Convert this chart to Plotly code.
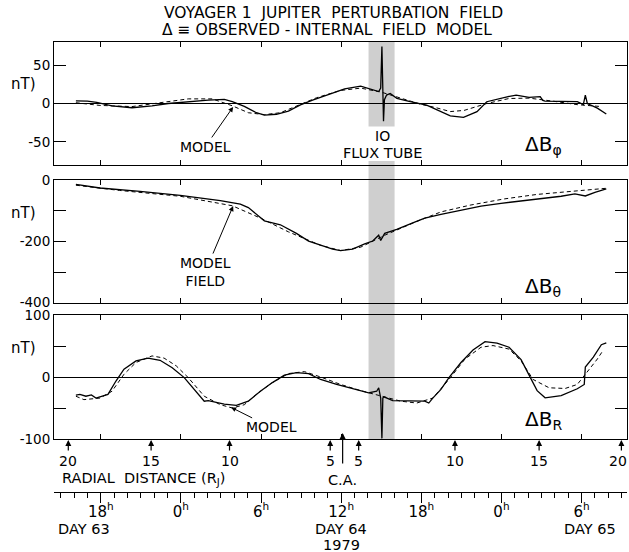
import plotly.graph_objects as go

W, H = 629, 552

# ---------------- data (hours since Day 63, 00h) ----------------
phi_obs_h = [16.14, 17.0, 17.7, 18.84, 20.34, 21.84, 23.05, 24.55, 26.05, 27.25, 27.85, 28.75, 29.65, 30.25,
             31.15, 32.05, 32.95, 33.86, 35.06, 36.26, 37.46, 38.06, 38.36, 38.81, 38.96, 39.05, 39.17, 39.24,
             39.4, 39.67, 40.17, 41.17, 42.4, 43.17, 44.17, 45.16, 46.17, 46.9, 47.67, 48.5, 49.1, 50.07,
             50.9, 51.1, 51.27, 52.47, 53.68, 54.13, 54.28, 54.43, 55.18, 55.85]
phi_obs = [3.5, 3.0, 1.5, -3, -5.5, -3, 0, 2.5, 4.5, 5.4, 2.5, -3.7, -12, -15,
           -14, -10, -1.7, 4.5, 12, 19, 22.5, 19, 17.5, 15.5, 20, 74, -23, 5,
           11, 13, 6.7, 2.3, -2, -8.4, -16, -18, -10.6, 2.3, 6, 9, 11, 8,
           9, 4, 3, 3, 2.5, -1.5, 11, 0, -6, -13.6]
phi_mod_h = [16.14, 17.94, 20.34, 22.44, 24.55, 26.35, 27.85, 29.05, 30.25, 31.45, 32.65, 34.16, 35.96,
             37.46, 38.96, 40.46, 41.96, 43.0, 44.17, 45.2, 46.17, 46.9, 48.57, 50.07, 51.87, 53.68, 55.5]
phi_mod = [1, -2.5, -4, 1, 6, 6, -3, -12, -14.5, -12, -3, 7.5, 17,
           20, 15, 6.6, -1, -5, -10.5, -9, -4, 0, 6.5, 7, 3, -1.5, -4]

th_obs_h = [16.14, 17.94, 20.94, 23.95, 26.95, 28.45, 29.05, 29.65, 30.25, 31.45, 32.65, 33.56, 34.46, 35.36,
            35.96, 36.86, 37.76, 38.36, 38.81, 38.96, 39.26, 40.16, 41.36, 42.26, 43.47, 44.97, 46.47,
            47.97, 49.47, 50.97, 52.47, 53.5, 54.28, 55.0, 55.85]
th_obs = [-14.6, -26, -37, -50, -67, -79, -90, -112, -133, -146, -174, -199, -213, -225,
          -230, -225, -208, -199, -180, -197, -174, -161, -140, -124, -112, -98, -85,
          -76, -68, -62, -53, -45, -52, -40, -29]
th_mod_h = [16.14, 19.4, 23.95, 27.85, 29.95, 32.05, 34.46, 35.96, 37.46, 39.26, 41.66, 43.47, 45.65,
            48.16, 50.66, 53.15, 55.85]
th_mod = [-17, -34, -53, -84, -124, -169, -213, -230, -219, -180, -135, -104, -82,
          -62, -47, -38, -27]

r_obs_h = [16.14, 16.44, 16.89, 17.3, 17.64, 18.54, 19.14, 19.74, 20.64, 21.54, 22.44, 23.35, 24.25, 25.15,
           25.75, 26.05, 27.25, 28.15, 29.05, 29.95, 30.85, 31.75, 32.65, 33.56, 34.46, 35.66, 36.86,
           38.06, 38.66, 38.81, 38.96, 39.05, 39.12, 39.2, 39.86, 40.76, 42.26, 42.56, 42.86, 43.47,
           44.07, 44.97, 45.87, 46.77, 47.67, 48.57, 49.47, 50.07, 50.67, 51.27, 52.47, 53.68, 54.2,
           54.28, 54.88, 55.48, 55.85]
r_obs = [-29.4, -28, -31, -29, -34, -28, -6.5, 12.5, 26, 30.5, 27, 15, -1, -23,
         -39, -38, -43.6, -45.8, -39, -23, -9, 3, 7, 5.5, -4, -12, -18.5,
         -25.6, -23, -17.4, -34, -99, -34, -32, -38, -38, -39, -42, -34, -20,
         -1, 23.4, 43.6, 57, 54.5, 48, 28, 3, -22, -33.5, -30, -19, -12,
         16, 32, 52, 55]
r_mod_h = [16.14, 16.74, 17.94, 18.84, 19.74, 20.64, 21.84, 22.74, 23.65, 24.55, 25.75, 26.95, 27.85,
           28.75, 29.65, 30.85, 32.05, 33.25, 34.46, 35.96, 37.46, 38.96, 40.46, 41.66, 42.86, 44.07,
           45.27, 46.47, 47.37, 48.57, 49.47, 50.37, 51.57, 52.77, 53.68, 54.28, 55.18, 55.63]
r_mod = [-31, -36.5, -34, -23, 4.4, 23.4, 34, 30.5, 18, -1, -31, -44.7, -50,
         -44.7, -28, -9, 5.5, 8.7, 0, -12, -22, -31, -39, -42, -34, -4,
         29, 48, 50.7, 45, 26, -4, -17.4, -18.5, -12, 4.4, 29, 43.6]

io_band = [38.05, 40.0]

radial_labels = ["20", "15", "10", "5", "5", "10", "15", "20"]
radial_hours = [15.57, 21.77, 27.64, 35.18, 37.31, 44.52, 50.82, 56.98]
ca_hour = 36.11

hour_ticks = [18, 24, 30, 36, 42, 48, 54]
hour_text = ["18", "0", "6", "12", "18", "0", "6"]
day_labels = ["DAY 63", "DAY 64", "DAY 65"]
day_hours = [16.75, 36.0, 54.6]
year_label = "1979"

X_RANGE = [14.5, 57.4]
FONT = "DejaVu Sans"

def py(px):
    return 1 - px / H

xdom = [54 / W, 627 / W]
p1 = [py(165), py(42)]
p2 = [py(302.7), py(180)]
p3 = [py(439), py(315)]
ptime = py(491.7)

fig = go.Figure()
solid = dict(color="black", width=1.3)
dashed = dict(color="black", width=1, dash="4px,3px")
fig.add_trace(go.Scatter(x=phi_mod_h, y=phi_mod, mode="lines", line=dashed, xaxis="x", yaxis="y"))
fig.add_trace(go.Scatter(x=phi_obs_h, y=phi_obs, mode="lines", line=solid, xaxis="x", yaxis="y"))
fig.add_trace(go.Scatter(x=th_mod_h, y=th_mod, mode="lines", line=dashed, xaxis="x2", yaxis="y2"))
fig.add_trace(go.Scatter(x=th_obs_h, y=th_obs, mode="lines", line=solid, xaxis="x2", yaxis="y2"))
fig.add_trace(go.Scatter(x=r_mod_h, y=r_mod, mode="lines", line=dashed, xaxis="x3", yaxis="y3"))
fig.add_trace(go.Scatter(x=r_obs_h, y=r_obs, mode="lines", line=solid, xaxis="x3", yaxis="y3"))

tickfont = dict(family=FONT, size=13.5, color="black")

def xax(anchor):
    return dict(domain=xdom, range=X_RANGE, anchor=anchor, showline=True, linecolor="black", linewidth=1,
                mirror="ticks", ticks="inside", ticklen=5, tickcolor="black", tickwidth=1,
                tickvals=hour_ticks, showticklabels=False, showgrid=False, zeroline=False,
                automargin=False)

def yax(anchor, dom, rng, vals, text, zl):
    return dict(domain=dom, range=rng, anchor=anchor, showline=True, linecolor="black", linewidth=1,
                mirror="ticks", ticks="inside", ticklen=12, tickcolor="black", tickwidth=1,
                tickvals=vals, ticktext=text, tickfont=tickfont, showgrid=False,
                zeroline=zl, zerolinecolor="black", zerolinewidth=1, automargin=False)

fig.update_layout(
    width=W, height=H, margin=dict(l=0, r=0, t=0, b=0, pad=0, autoexpand=False),
    paper_bgcolor="white", plot_bgcolor="white", showlegend=False,
    xaxis=xax("y"), yaxis=yax("x", p1, [-80, 80], [-50, 0, 50], ["-50", "0", "50"], True),
    xaxis2=xax("y2"), yaxis2=yax("x2", p2, [-400, 0], [-400, -300, -200, -100, 0],
                                  ["-400", "", "-200", "", "0"], False),
    xaxis3=xax("y3"), yaxis3=yax("x3", p3, [-100, 100], [-100, -50, 0, 50, 100],
                                  ["-100", "", "0", "", "100"], True),
    xaxis4=dict(domain=xdom, range=X_RANGE, anchor="y4", showline=True, linecolor="black", linewidth=1,
                ticks="outside", ticklen=10, tickcolor="black", tickwidth=1,
                tickvals=hour_ticks, ticktext=[t + "<sup>h</sup>" for t in hour_text],
                tickfont=dict(family=FONT, size=15, color="black"), ticklabelstandoff=-4,
                showgrid=False, zeroline=False, automargin=False,
                minor=dict(tickmode="linear", tick0=0, dtick=1, ticklen=5, ticks="outside",
                           tickcolor="black", tickwidth=1)),
    yaxis4=dict(domain=[ptime, ptime + 0.002], anchor="x4", visible=False, range=[0, 1], automargin=False),
)

# IO flux tube band
band_col = "#cfcfcf"
fig.add_shape(type="rect", xref="x", yref="y", x0=io_band[0], x1=io_band[1], y0=-30, y1=80,
              fillcolor=band_col, line_width=0, layer="below")
fig.add_shape(type="rect", xref="x3", yref="paper", x0=io_band[0], x1=io_band[1], y0=p3[0], y1=p1[0] + 4 / H,
              fillcolor=band_col, line_width=0, layer="below")

ann = []
def txt(x, y, s, size=15, xref="paper", yref="paper", xanchor="center"):
    ann.append(dict(x=x, y=y, xref=xref, yref=yref, text=s, showarrow=False, xanchor=xanchor,
                    yanchor="middle", font=dict(family=FONT, size=size, color="black")))

txt(333 / W, py(12.5), "VOYAGER 1  JUPITER  PERTURBATION  FIELD", 15.5)
txt(327 / W, py(30.5), "\u0394 \u2261 OBSERVED - INTERNAL  FIELD  MODEL", 15.5)
for yy in [84, 213, 348]:
    txt(23 / W, py(yy), "nT)", 15)
txt(543 / W, py(145), "\u0394B<sub>\u03c6</sub>", 20)
txt(543 / W, py(287), "\u0394B<sub>\u03b8</sub>", 20)
txt(543 / W, py(420), "\u0394B<sub>R</sub>", 20)
txt(383 / W, py(136), "IO", 14)
txt(383 / W, py(153), "FLUX TUBE", 14.5)
txt(60 / W, py(479), "RADIAL  DISTANCE (R<sub>J</sub>)", 14.5, xanchor="left")
txt(342 / W, py(480), "C.A.", 14.5)

# model arrows
def arrow_label(x, y, xref, yref, s, ax, ay):
    ann.append(dict(x=x, y=y, xref=xref, yref=yref, text=s, showarrow=True, ax=ax, ay=ay,
                    arrowhead=2, arrowsize=1, arrowwidth=1, arrowcolor="black",
                    font=dict(family=FONT, size=14, color="black")))

arrow_label(27.91, -4.5, "x", "y", "MODEL", -28, 40)
arrow_label(27.91, -85, "x2", "y2", "MODEL<br>FIELD", -28, 66)
arrow_label(27.76, -49, "x3", "y3", "MODEL", 40, 20)

# radial distance arrows
for i, (lab, hr) in enumerate(zip(radial_labels, radial_hours)):
    ann.append(dict(x=hr, y=py(440), xref="x3", yref="paper", text="", showarrow=True, ax=0, ay=12,
                    arrowhead=2, arrowsize=1, arrowwidth=1.2, arrowcolor="black"))
    ann.append(dict(x=hr, y=py(461), xref="x3", yref="paper", text=lab, showarrow=False,
                    yanchor="middle", xshift=(-3 if i == len(radial_labels) - 1 else 0),
                    font=dict(family=FONT, size=14, color="black")))
ann.append(dict(x=ca_hour, y=py(433), xref="x3", yref="paper", text="", showarrow=True, ax=0, ay=32,
                arrowhead=2, arrowsize=1, arrowwidth=1.2, arrowcolor="black"))

for lab, hr in zip(day_labels, day_hours):
    ann.append(dict(x=hr, y=py(529), xref="x4", yref="paper", text=lab, showarrow=False,
                    yanchor="middle", font=dict(family=FONT, size=14.5, color="black")))
ann.append(dict(x=day_hours[1], y=py(545), xref="x4", yref="paper", text=year_label, showarrow=False,
                yanchor="middle", font=dict(family=FONT, size=14.5, color="black")))

fig.update_layout(annotations=ann)
fig.write_html("out.html")
